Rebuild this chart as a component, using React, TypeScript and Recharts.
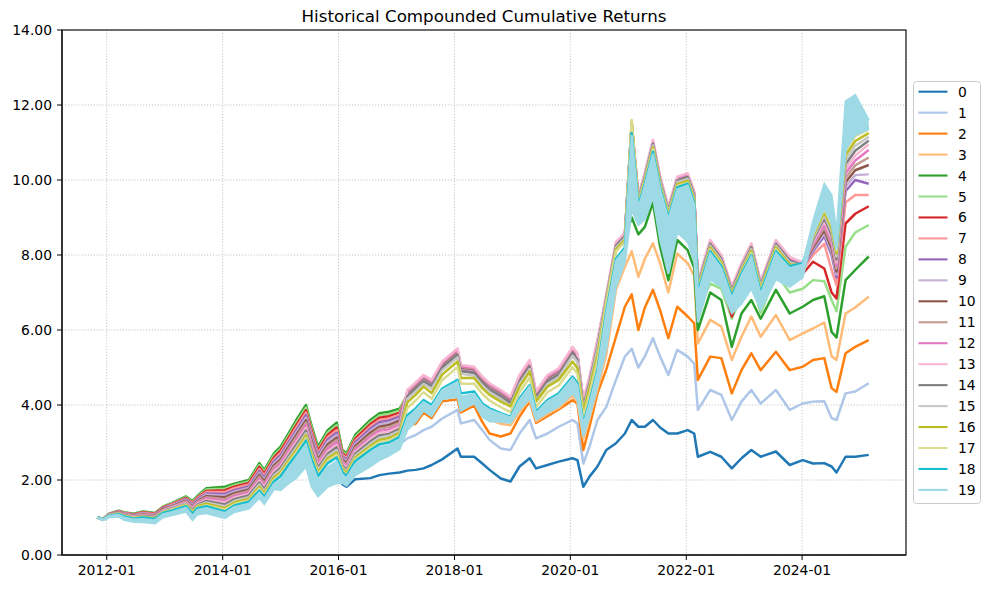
import React from 'react';
import { ComposedChart, Line, Area, XAxis, YAxis, CartesianGrid } from 'recharts';

const dates = [
  '2011-11-01','2011-12-10','2012-01-15','2012-03-15','2012-04-20','2012-06-20','2012-08-15','2012-11-01','2012-12-20','2013-02-15',
  '2013-05-15','2013-06-25','2013-07-25','2013-09-20','2014-01-15','2014-03-15','2014-06-15','2014-08-20','2014-09-20','2014-11-20',
  '2015-01-01','2015-02-20','2015-04-10','2015-06-10','2015-07-15','2015-08-25','2015-10-25','2015-12-20','2016-01-25','2016-02-20',
  '2016-04-15','2016-07-20','2016-09-15','2016-11-15','2017-01-20',
  '2017-03-10','2017-05-01','2017-06-20','2017-08-10','2017-10-15','2018-01-20','2018-02-10','2018-05-05','2018-06-25','2018-08-10',
  '2018-10-20','2018-12-20','2019-02-15','2019-04-20','2019-05-30','2019-08-10','2019-10-20','2020-01-15','2020-02-15','2020-03-23',
  '2020-05-01','2020-06-20',
  '2020-08-15','2020-10-15','2020-12-10','2021-01-22','2021-03-05','2021-04-15','2021-06-05','2021-07-20','2021-09-10','2021-11-05',
  '2022-01-10','2022-02-20','2022-03-15','2022-06-01','2022-08-10','2022-10-15','2022-12-15','2023-02-15','2023-04-15','2023-07-20',
  '2023-10-15','2024-01-05',
  '2024-03-10','2024-05-20','2024-07-05','2024-08-05','2024-10-01','2024-12-01','2025-02-24',
];

const s0 = [
  1.00, 0.94, 1.02, 1.05, 0.97, 0.92, 0.92, 0.89, 1.05, 1.11, 1.21, 0.99, 1.14, 1.18, 1.05, 1.21, 1.31, 1.59, 1.43, 1.83, 1.87, 2.10, 2.32, 2.65, 2.13, 1.78, 2.08, 2.20, 1.89, 1.82, 2.02, 2.05, 2.13, 2.17, 2.20,
  2.25, 2.27, 2.31, 2.40, 2.55, 2.84, 2.62, 2.62, 2.44, 2.27, 2.04, 1.96, 2.36, 2.58, 2.31, 2.40, 2.49, 2.58, 2.53, 1.82, 2.09, 2.36,
  2.80, 2.98, 3.24, 3.60, 3.42, 3.42, 3.60, 3.40, 3.24, 3.24, 3.33, 3.24, 2.62, 2.75, 2.62, 2.31, 2.58, 2.80, 2.62, 2.76, 2.40, 2.53,
  2.44, 2.45, 2.36, 2.20, 2.62, 2.62, 2.67,
];
const s1 = [
  1.00, 0.94, 1.02, 1.05, 0.97, 0.92, 0.92, 0.89, 1.05, 1.11, 1.21, 0.99, 1.14, 1.18, 1.05, 1.21, 1.31, 1.59, 1.43, 1.83, 1.87, 2.10, 2.32, 2.65, 2.13, 1.78, 2.08, 2.20, 2.04, 1.95, 2.27, 2.54, 2.70, 2.79, 2.95,
  3.11, 3.20, 3.33, 3.42, 3.64, 3.87, 3.51, 3.60, 3.33, 3.07, 2.84, 2.80, 3.24, 3.60, 3.11, 3.24, 3.42, 3.60, 3.51, 2.44, 2.89, 3.60,
  3.95, 4.67, 5.29, 5.50, 5.00, 5.30, 5.78, 5.29, 4.80, 5.47, 5.29, 5.10, 3.87, 4.40, 4.27, 3.60, 4.09, 4.40, 4.04, 4.40, 3.87, 4.04,
  4.09, 4.10, 3.65, 3.60, 4.31, 4.36, 4.58,
];
const s2 = [
  1.00, 0.94, 1.02, 1.05, 0.97, 0.92, 0.92, 0.89, 1.05, 1.11, 1.21, 0.99, 1.14, 1.18, 1.05, 1.21, 1.31, 1.59, 1.43, 1.83, 1.87, 2.10, 2.32, 2.65, 2.13, 1.78, 2.08, 2.20, 2.04, 1.95, 2.27, 2.54, 2.70, 2.79, 2.95,
  3.45, 3.50, 3.80, 3.65, 4.10, 4.15, 3.80, 3.98, 3.55, 3.24, 3.16, 3.24, 3.69, 4.10, 3.52, 3.70, 3.88, 4.13, 4.04, 2.80, 3.42, 4.31,
  4.95, 5.82, 6.62, 6.95, 6.00, 6.60, 7.07, 6.53, 5.78, 6.62, 6.36, 6.18, 4.67, 5.29, 5.25, 4.31, 4.93, 5.38, 4.93, 5.42, 4.93, 5.02,
  5.20, 5.25, 4.45, 4.35, 5.38, 5.55, 5.73,
];
const s3 = [
  1.00, 0.94, 1.02, 1.05, 0.97, 0.92, 0.92, 0.89, 1.05, 1.11, 1.21, 0.99, 1.14, 1.18, 1.05, 1.21, 1.31, 1.59, 1.43, 1.83, 1.87, 2.10, 2.32, 2.65, 2.13, 1.78, 2.08, 2.20, 2.04, 1.95, 2.27, 2.54, 2.70, 2.79, 2.95,
  3.40, 3.62, 3.92, 3.77, 4.22, 4.29, 3.92, 4.10, 3.74, 3.61, 3.50, 3.46, 3.83, 4.14, 3.56, 3.76, 3.92, 4.26, 4.09, 3.10, 3.64, 4.42,
  5.35, 7.07, 7.69, 8.10, 7.42, 7.90, 8.31, 7.78, 7.00, 8.04, 7.78, 7.45, 5.64, 6.27, 6.09, 5.20, 5.82, 6.36, 5.82, 6.40, 5.73, 5.91,
  6.04, 6.20, 5.30, 5.20, 6.44, 6.60, 6.89,
];
const s4 = [
  1.00, 0.97, 1.10, 1.18, 1.14, 1.10, 1.16, 1.12, 1.29, 1.39, 1.56, 1.44, 1.58, 1.78, 1.82, 1.90, 2.00, 2.45, 2.27, 2.71, 2.89, 3.24, 3.60, 4.00, 3.45, 2.89, 3.33, 3.53, 2.80, 2.71, 3.20, 3.60, 3.78, 3.82, 3.90,
  4.27, 4.47, 4.67, 4.54, 5.03, 5.38, 4.94, 4.89, 4.63, 4.45, 4.27, 4.09, 4.67, 5.07, 4.23, 4.67, 4.85, 5.42, 5.25, 4.00, 4.63, 5.60,
  6.82, 8.22, 8.47, 9.00, 8.55, 8.75, 9.40, 8.22, 7.33, 8.40, 8.13, 7.65, 6.00, 7.00, 6.80, 5.55, 6.44, 6.80, 6.30, 7.07, 6.44, 6.62,
  6.80, 6.90, 5.95, 5.80, 7.33, 7.60, 7.96,
];
const s5 = [
  1.00, 0.97, 1.10, 1.17, 1.13, 1.09, 1.15, 1.11, 1.28, 1.38, 1.54, 1.42, 1.56, 1.75, 1.77, 1.86, 1.96, 2.40, 2.22, 2.66, 2.83, 3.18, 3.53, 3.93, 3.39, 2.83, 3.27, 3.46, 2.76, 2.67, 3.15, 3.54, 3.72, 3.76, 3.85,
  4.29, 4.49, 4.69, 4.56, 5.05, 5.40, 4.96, 4.91, 4.65, 4.47, 4.29, 4.11, 4.69, 5.09, 4.25, 4.69, 4.87, 5.44, 5.27, 4.02, 4.65, 5.62,
  6.84, 8.24, 8.49, 9.60, 8.90, 9.30, 10.00, 9.00, 8.10, 8.90, 8.90, 8.50, 6.50, 7.24, 7.10, 6.30, 6.90, 7.30, 6.45, 7.50, 7.00, 7.10,
  7.33, 7.30, 6.80, 6.50, 8.22, 8.60, 8.80,
];
const s6 = [
  1.00, 0.97, 1.09, 1.17, 1.12, 1.08, 1.14, 1.10, 1.27, 1.36, 1.52, 1.39, 1.53, 1.71, 1.73, 1.82, 1.92, 2.35, 2.17, 2.60, 2.78, 3.12, 3.47, 3.86, 3.32, 2.78, 3.20, 3.40, 2.72, 2.62, 3.10, 3.49, 3.66, 3.70, 3.79,
  4.28, 4.48, 4.68, 4.55, 5.04, 5.39, 4.95, 4.90, 4.64, 4.46, 4.28, 4.10, 4.68, 5.08, 4.24, 4.68, 4.86, 5.43, 5.26, 4.01, 4.64, 5.61,
  6.83, 8.23, 8.48, 10.00, 9.05, 9.60, 10.30, 9.40, 8.50, 9.30, 9.30, 8.90, 6.80, 7.70, 7.40, 6.36, 7.10, 7.60, 6.70, 7.80, 7.40, 7.50,
  7.82, 7.64, 7.00, 6.84, 8.84, 9.10, 9.30,
];
const s7 = [
  1.00, 0.97, 1.09, 1.16, 1.12, 1.07, 1.13, 1.09, 1.25, 1.35, 1.50, 1.37, 1.51, 1.68, 1.68, 1.78, 1.88, 2.29, 2.12, 2.55, 2.72, 3.06, 3.40, 3.80, 3.26, 2.72, 3.14, 3.33, 2.68, 2.58, 3.05, 3.43, 3.60, 3.64, 3.74,
  4.30, 4.50, 4.70, 4.57, 5.06, 5.41, 4.97, 4.92, 4.66, 4.48, 4.30, 4.12, 4.70, 5.10, 4.26, 4.70, 4.88, 5.45, 5.28, 4.03, 4.66, 5.63,
  6.85, 8.25, 8.50, 10.50, 9.20, 9.80, 10.60, 9.70, 8.80, 9.60, 9.60, 9.20, 7.00, 8.00, 7.60, 6.80, 7.40, 7.90, 6.90, 8.00, 7.60, 7.60,
  8.00, 8.30, 7.60, 7.20, 9.40, 9.60, 9.60,
];
const s8 = [
  1.00, 0.96, 1.09, 1.15, 1.11, 1.06, 1.11, 1.07, 1.24, 1.33, 1.49, 1.34, 1.49, 1.64, 1.63, 1.73, 1.83, 2.24, 2.06, 2.50, 2.66, 3.00, 3.33, 3.73, 3.19, 2.66, 3.08, 3.26, 2.63, 2.54, 3.00, 3.37, 3.54, 3.59, 3.69,
  4.29, 4.49, 4.69, 4.56, 5.05, 5.40, 4.96, 4.91, 4.65, 4.47, 4.29, 4.11, 4.69, 5.09, 4.25, 4.69, 4.87, 5.44, 5.27, 4.02, 4.65, 5.62,
  6.83, 8.23, 8.48, 11.43, 9.48, 10.08, 10.95, 9.98, 9.18, 9.97, 10.06, 9.58, 7.18, 8.28, 7.88, 7.04, 7.66, 8.19, 7.18, 8.28, 7.83, 7.68,
  8.10, 8.50, 8.00, 7.40, 9.70, 10.00, 9.90,
];
const s9 = [
  1.00, 0.96, 1.08, 1.15, 1.10, 1.05, 1.10, 1.06, 1.23, 1.32, 1.47, 1.32, 1.46, 1.61, 1.58, 1.69, 1.79, 2.19, 2.01, 2.44, 2.61, 2.94, 3.27, 3.66, 3.13, 2.61, 3.02, 3.20, 2.59, 2.49, 2.95, 3.31, 3.48, 3.53, 3.63,
  4.31, 4.51, 4.71, 4.58, 5.07, 5.42, 4.98, 4.93, 4.67, 4.49, 4.31, 4.13, 4.71, 5.11, 4.27, 4.71, 4.89, 5.46, 5.29, 4.04, 4.67, 5.64,
  6.85, 8.25, 8.50, 11.45, 9.50, 10.10, 10.97, 10.00, 9.20, 9.99, 10.08, 9.60, 7.20, 8.30, 7.90, 7.06, 7.68, 8.21, 7.20, 8.30, 7.85, 7.70,
  8.15, 8.58, 8.09, 7.48, 9.82, 10.13, 10.15,
];
const s10 = [
  1.00, 0.96, 1.08, 1.14, 1.09, 1.04, 1.09, 1.05, 1.22, 1.30, 1.45, 1.29, 1.44, 1.57, 1.54, 1.65, 1.75, 2.14, 1.96, 2.39, 2.55, 2.88, 3.20, 3.59, 3.06, 2.55, 2.95, 3.13, 2.55, 2.45, 2.90, 3.26, 3.42, 3.47, 3.58,
  4.33, 4.53, 4.73, 4.60, 5.09, 5.44, 5.00, 4.95, 4.69, 4.51, 4.33, 4.15, 4.73, 5.13, 4.29, 4.73, 4.91, 5.48, 5.31, 4.06, 4.69, 5.66,
  6.87, 8.27, 8.52, 11.47, 9.52, 10.12, 10.99, 10.02, 9.22, 10.01, 10.10, 9.62, 7.22, 8.32, 7.92, 7.08, 7.70, 8.23, 7.22, 8.32, 7.87, 7.72,
  8.20, 8.66, 8.18, 7.56, 9.94, 10.26, 10.40,
];
const s11 = [
  1.00, 0.96, 1.08, 1.13, 1.09, 1.04, 1.08, 1.04, 1.20, 1.29, 1.43, 1.27, 1.42, 1.54, 1.49, 1.61, 1.71, 2.09, 1.91, 2.34, 2.50, 2.82, 3.14, 3.53, 3.00, 2.50, 2.89, 3.07, 2.51, 2.41, 2.85, 3.20, 3.37, 3.41, 3.53,
  4.35, 4.55, 4.75, 4.62, 5.11, 5.46, 5.02, 4.97, 4.71, 4.53, 4.35, 4.17, 4.75, 5.15, 4.31, 4.75, 4.93, 5.50, 5.33, 4.08, 4.71, 5.68,
  6.89, 8.29, 8.54, 11.49, 9.54, 10.14, 11.01, 10.04, 9.24, 10.03, 10.12, 9.64, 7.24, 8.34, 7.94, 7.10, 7.72, 8.25, 7.24, 8.34, 7.89, 7.74,
  8.25, 8.74, 8.27, 7.64, 10.06, 10.39, 10.60,
];
const s12 = [
  1.00, 0.96, 1.07, 1.13, 1.08, 1.03, 1.07, 1.03, 1.19, 1.27, 1.41, 1.25, 1.39, 1.51, 1.44, 1.57, 1.67, 2.03, 1.86, 2.28, 2.44, 2.76, 3.07, 3.46, 2.94, 2.44, 2.83, 3.00, 2.47, 2.36, 2.80, 3.14, 3.31, 3.35, 3.47,
  4.37, 4.57, 4.77, 4.64, 5.13, 5.48, 5.04, 4.99, 4.73, 4.55, 4.37, 4.19, 4.77, 5.17, 4.33, 4.77, 4.95, 5.52, 5.35, 4.10, 4.73, 5.70,
  6.92, 8.32, 8.57, 11.52, 9.57, 10.17, 11.04, 10.07, 9.27, 10.06, 10.15, 9.67, 7.27, 8.37, 7.97, 7.13, 7.75, 8.28, 7.27, 8.37, 7.92, 7.77,
  8.30, 8.82, 8.36, 7.72, 10.18, 10.52, 10.80,
];
const s13 = [
  1.00, 0.96, 1.07, 1.12, 1.07, 1.02, 1.06, 1.02, 1.18, 1.26, 1.39, 1.22, 1.37, 1.47, 1.40, 1.53, 1.63, 1.98, 1.81, 2.23, 2.38, 2.70, 3.00, 3.39, 2.87, 2.38, 2.76, 2.93, 2.43, 2.32, 2.75, 3.09, 3.25, 3.29, 3.42,
  4.40, 4.60, 4.80, 4.67, 5.16, 5.51, 5.07, 5.02, 4.76, 4.58, 4.40, 4.22, 4.80, 5.20, 4.36, 4.80, 4.98, 5.55, 5.38, 4.13, 4.76, 5.73,
  6.95, 8.35, 8.60, 11.55, 9.60, 10.20, 11.07, 10.10, 9.30, 10.09, 10.18, 9.70, 7.30, 8.40, 8.00, 7.16, 7.78, 8.31, 7.30, 8.40, 7.95, 7.80,
  8.35, 8.90, 8.45, 7.80, 10.30, 10.65, 10.95,
];
const s14 = [
  1.00, 0.96, 1.06, 1.12, 1.06, 1.01, 1.05, 1.01, 1.17, 1.24, 1.37, 1.20, 1.34, 1.44, 1.35, 1.49, 1.59, 1.93, 1.76, 2.17, 2.33, 2.64, 2.94, 3.32, 2.81, 2.33, 2.70, 2.87, 2.39, 2.27, 2.70, 3.03, 3.19, 3.23, 3.36,
  4.23, 4.43, 4.63, 4.50, 4.99, 5.34, 4.90, 4.85, 4.59, 4.41, 4.23, 4.05, 4.63, 5.03, 4.19, 4.63, 4.81, 5.38, 5.21, 3.96, 4.59, 5.56,
  6.85, 8.25, 8.50, 11.50, 9.50, 10.10, 10.97, 10.00, 9.20, 9.99, 10.08, 9.60, 7.20, 8.30, 7.90, 7.06, 7.68, 8.21, 7.20, 8.30, 7.85, 7.72,
  8.40, 8.98, 8.54, 7.88, 10.42, 10.78, 11.05,
];
const s15 = [
  1.00, 0.95, 1.06, 1.11, 1.05, 1.00, 1.03, 0.99, 1.16, 1.23, 1.36, 1.17, 1.32, 1.40, 1.30, 1.44, 1.54, 1.88, 1.70, 2.12, 2.27, 2.58, 2.87, 3.25, 2.74, 2.27, 2.64, 2.80, 2.34, 2.23, 2.65, 2.97, 3.13, 3.18, 3.31,
  4.16, 4.36, 4.56, 4.43, 4.92, 5.27, 4.83, 4.78, 4.52, 4.34, 4.16, 3.98, 4.56, 4.96, 4.12, 4.56, 4.74, 5.31, 5.14, 3.89, 4.52, 5.49,
  6.80, 8.20, 8.45, 11.45, 9.45, 10.05, 10.92, 9.95, 9.15, 9.94, 10.03, 9.55, 7.15, 8.25, 7.85, 7.01, 7.63, 8.16, 7.15, 8.25, 7.80, 7.72,
  8.45, 9.06, 8.63, 7.96, 10.54, 10.91, 11.15,
];
const s16 = [
  1.00, 0.95, 1.06, 1.10, 1.05, 0.99, 1.02, 0.98, 1.14, 1.21, 1.34, 1.15, 1.30, 1.37, 1.25, 1.40, 1.50, 1.82, 1.65, 2.07, 2.21, 2.52, 2.80, 3.19, 2.68, 2.21, 2.58, 2.73, 2.30, 2.19, 2.60, 2.91, 3.07, 3.12, 3.26,
  4.07, 4.27, 4.49, 4.32, 4.81, 5.16, 4.72, 4.72, 4.45, 4.27, 4.09, 3.96, 4.49, 4.89, 4.09, 4.49, 4.67, 5.16, 4.98, 3.83, 4.45, 5.34,
  6.75, 8.15, 8.40, 11.55, 9.40, 10.00, 10.87, 9.90, 9.10, 9.89, 9.98, 9.50, 7.10, 8.20, 7.80, 6.96, 7.58, 8.11, 7.10, 8.20, 7.75, 7.74,
  8.50, 9.14, 8.72, 8.04, 10.66, 11.04, 11.25,
];
const s17 = [
  1.00, 0.95, 1.05, 1.10, 1.04, 0.98, 1.01, 0.97, 1.13, 1.20, 1.32, 1.12, 1.27, 1.33, 1.21, 1.36, 1.46, 1.77, 1.60, 2.01, 2.16, 2.46, 2.74, 3.12, 2.61, 2.16, 2.51, 2.67, 2.26, 2.14, 2.55, 2.86, 3.01, 3.06, 3.20,
  3.92, 4.12, 4.34, 4.17, 4.66, 5.01, 4.57, 4.57, 4.30, 4.12, 3.94, 3.81, 4.34, 4.74, 3.94, 4.34, 4.52, 5.01, 4.83, 3.68, 4.30, 5.19,
  6.70, 8.10, 8.35, 11.60, 9.35, 9.95, 10.82, 9.85, 9.05, 9.84, 9.93, 9.45, 7.05, 8.15, 7.75, 6.91, 7.53, 8.06, 7.05, 8.15, 7.70, 7.76,
  8.55, 9.22, 8.81, 8.12, 10.78, 11.17, 11.35,
];
const s18 = [
  1.00, 0.95, 1.05, 1.09, 1.03, 0.97, 1.00, 0.96, 1.12, 1.18, 1.30, 1.10, 1.25, 1.30, 1.16, 1.32, 1.42, 1.72, 1.55, 1.96, 2.10, 2.40, 2.67, 3.05, 2.55, 2.10, 2.45, 2.60, 2.22, 2.10, 2.50, 2.80, 2.95, 3.00, 3.15,
  3.73, 3.91, 4.13, 4.00, 4.44, 4.67, 4.31, 4.36, 4.04, 3.91, 3.78, 3.69, 4.18, 4.53, 3.82, 4.13, 4.31, 4.76, 4.58, 3.51, 4.09, 4.93,
  6.50, 7.90, 8.20, 11.25, 9.30, 9.90, 10.75, 9.80, 9.00, 9.80, 9.90, 9.40, 7.00, 8.10, 7.70, 6.90, 7.50, 8.00, 7.00, 8.10, 7.70, 7.78,
  8.60, 9.30, 8.90, 8.20, 10.90, 11.30, 11.40,
];
// series 19 is very noisy: its daily swing is drawn as a low/high envelope
const s19Low = [
  0.99, 0.92, 1.00, 1.02, 0.93, 0.88, 0.87, 0.84, 1.00, 1.06, 1.15, 0.93, 1.08, 1.11, 0.98, 1.14, 1.24, 1.52, 1.36, 1.75, 1.73, 1.91, 2.05, 2.36, 1.82, 1.56, 1.82, 1.91, 1.92, 1.85, 2.12, 2.36, 2.53, 2.65, 2.82,
  3.33, 3.55, 3.85, 3.70, 4.15, 4.22, 3.85, 4.05, 3.69, 3.56, 3.55, 3.52, 3.87, 4.18, 3.60, 3.80, 3.96, 4.31, 4.13, 3.16, 3.69, 4.49,
  5.50, 7.15, 7.80, 9.20, 8.80, 8.95, 9.55, 8.40, 7.50, 8.60, 8.35, 7.85, 6.20, 7.35, 7.15, 6.45, 6.70, 7.10, 6.55, 7.35, 7.15, 7.40,
  8.55, 9.25, 8.85, 8.15, 10.80, 11.20, 11.35,
];
const s19High = [
  1.00, 0.95, 1.04, 1.07, 1.00, 0.95, 0.96, 0.93, 1.09, 1.15, 1.26, 1.05, 1.20, 1.25, 1.12, 1.28, 1.37, 1.66, 1.50, 1.90, 2.00, 2.30, 2.60, 2.95, 2.45, 2.00, 2.35, 2.50, 2.15, 2.05, 2.42, 2.72, 2.88, 2.93, 3.08,
  3.66, 3.86, 4.08, 3.95, 4.40, 4.62, 4.22, 4.30, 4.00, 3.87, 3.76, 3.67, 4.13, 4.49, 3.78, 4.09, 4.27, 4.71, 4.53, 3.48, 4.04, 4.89,
  6.45, 7.85, 8.15, 11.20, 9.25, 9.85, 10.70, 9.75, 8.95, 9.75, 9.85, 9.35, 6.95, 8.05, 7.65, 6.85, 7.45, 7.95, 6.95, 8.05, 7.65, 7.75,
  8.90, 9.90, 9.60, 8.60, 12.10, 12.27, 11.60,
];

const seriesNames = ['0','1','2','3','4','5','6','7','8','9','10','11','12','13','14','15','16','17','18','19'];
const colors = ['#1f77b4','#aec7e8','#ff7f0e','#ffbb78','#2ca02c','#98df8a','#d62728','#ff9896','#9467bd','#c5b0d5',
  '#8c564b','#c49c94','#e377c2','#f7b6d2','#7f7f7f','#c7c7c7','#bcbd22','#dbdb8d','#17becf','#9edae5'];
const xTickLabels = ['2012-01','2014-01','2016-01','2018-01','2020-01','2022-01','2024-01'];
const yTicks = [0, 2, 4, 6, 8, 10, 12, 14];
const title = 'Historical Compounded Cumulative Returns';

const lineSeries = [s0, s1, s2, s3, s4, s5, s6, s7, s8, s9, s10, s11, s12, s13, s14, s15, s16, s17, s18];

const toTs = (s: string) => Date.parse(s + 'T00:00:00Z');

const data = dates.map((d, i) => {
  const row: Record<string, any> = { t: toTs(d), r19: [s19Low[i], s19High[i]] };
  lineSeries.forEach((arr, k) => { row['s' + k] = arr[i]; });
  return row;
});

const xTicks = xTickLabels.map((l) => toTs(l + '-01'));
const xDomain = [toTs('2011-03-25'), toTs('2025-10-17')];
const fmtX = (v: number) => new Date(v).toISOString().slice(0, 7);

const FONT = "'DejaVu Sans', sans-serif";
const tickStyle = { fontSize: 13.9, fill: '#000', fontFamily: FONT };

export default function App() {
  return (
    <div style={{ position: 'absolute', left: 0, top: 0, width: 992, height: 591, background: '#fff' }}>
      <ComposedChart width={992} height={591} data={data} margin={{ top: 30, right: 86, bottom: 0, left: 0 }}>
        <CartesianGrid stroke="#b0b0b0" strokeDasharray="1.1 1.8" strokeWidth={0.8} />
        <XAxis
          dataKey="t"
          type="number"
          domain={xDomain}
          ticks={xTicks}
          interval={0}
          allowDataOverflow
          tickFormatter={fmtX}
          height={36}
          tickSize={5}
          tickMargin={5}
          stroke="#000"
          tick={tickStyle}
        />
        <YAxis
          type="number"
          domain={[0, 14]}
          ticks={yTicks}
          interval={0}
          allowDataOverflow
          tickFormatter={(v: number) => v.toFixed(2)}
          width={62}
          tickSize={5}
          tickMargin={5}
          stroke="#000"
          tick={tickStyle}
        />
        {lineSeries.map((_, k) => (
          <Line
            key={k}
            dataKey={'s' + k}
            name={seriesNames[k]}
            type="linear"
            stroke={colors[k]}
            strokeWidth={2.5}
            strokeLinejoin="round"
            dot={false}
            activeDot={false}
            isAnimationActive={false}
          />
        ))}
        <Area
          dataKey="r19"
          name={seriesNames[19]}
          type="linear"
          fill={colors[19]}
          fillOpacity={1}
          stroke={colors[19]}
          strokeWidth={2}
          dot={false}
          activeDot={false}
          isAnimationActive={false}
          {...({ zIndex: 450 } as any)}
        />
      </ComposedChart>
      <svg width={992} height={591} style={{ position: 'absolute', left: 0, top: 0, pointerEvents: 'none' }}>
        <rect x={62} y={30} width={844} height={525} fill="none" stroke="#000" strokeWidth={1.1} />
        <text x={484} y={22} textAnchor="middle" fontFamily={FONT} fontSize={16.7} fill="#000">{title}</text>
        <rect x={913.5} y={81.5} width={67} height={422} rx={3} ry={3} fill="#fff" fillOpacity={0.8} stroke="#cccccc" strokeWidth={1} />
        {seriesNames.map((n, i) => {
          const cy = 91.7 + i * 20.96;
          return (
            <g key={n}>
              <line x1={918.5} x2={947.5} y1={cy} y2={cy} stroke={colors[i]} strokeWidth={2.1} />
              <text x={958} y={cy + 5} fontFamily={FONT} fontSize={13.9} fill="#000">{n}</text>
            </g>
          );
        })}
      </svg>
    </div>
  );
}
